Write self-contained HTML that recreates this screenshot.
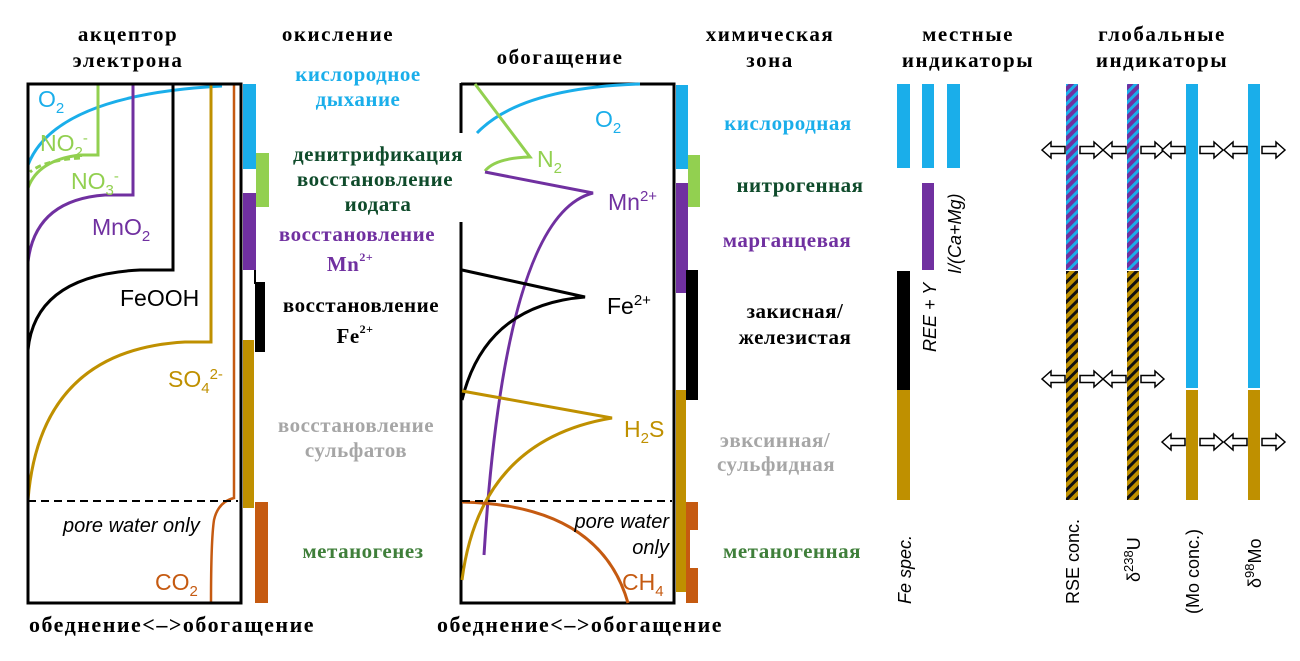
<!DOCTYPE html>
<html><head><meta charset="utf-8"><style>
html,body{margin:0;padding:0;background:#fff;}
svg{display:block;}
.h{font-family:"Liberation Serif",serif;font-weight:bold;font-size:21px;letter-spacing:1.5px;text-anchor:middle;}
.p{font-family:"Liberation Serif",serif;font-weight:bold;font-size:21px;letter-spacing:0.5px;text-anchor:middle;}
.s{font-family:"Liberation Sans",sans-serif;}
</style></head><body>
<svg width="1300" height="661" viewBox="0 0 1300 661" xmlns="http://www.w3.org/2000/svg">
<defs>
<pattern id="hp" patternUnits="userSpaceOnUse" width="7" height="7" patternTransform="rotate(45)">
<rect width="7" height="7" fill="#7030a0"/><rect width="3" height="7" fill="#1aaeea"/></pattern>
<pattern id="hg" patternUnits="userSpaceOnUse" width="7" height="7" patternTransform="rotate(45)">
<rect width="7" height="7" fill="#bf9000"/><rect width="3" height="7" fill="#111"/></pattern>
<g id="al"><polygon points="0,0 9,-8 9,-3.5 23,-3.5 23,3.5 9,3.5 9,8" fill="#fff" stroke="#000" stroke-width="1.5"/></g>
<g id="ar"><polygon points="23,0 14,-8 14,-3.5 0,-3.5 0,3.5 14,3.5 14,8" fill="#fff" stroke="#000" stroke-width="1.5"/></g>
</defs>

<g class="h" fill="#000">
<text x="128" y="41">акцептор</text><text x="128" y="67">электрона</text>
<text x="338" y="41">окисление</text>
<text x="560" y="64">обогащение</text>
<text x="770" y="41">химическая</text><text x="770" y="67">зона</text>
<text x="968" y="41">местные</text><text x="968" y="67">индикаторы</text>
<text x="1162" y="41">глобальные</text><text x="1162" y="67">индикаторы</text>
<text x="172" y="632" font-size="22">обеднение&lt;–&gt;обогащение</text>
<text x="580" y="632" font-size="22">обеднение&lt;–&gt;обогащение</text>
</g>

<!-- LEFT BOX -->
<g fill="none" stroke-width="3">
<path d="M28,165 Q55,95 222,86" stroke="#1aaeea"/>
<path d="M98,84 V155 H80 Q38,160 28,188" stroke="#92d050"/>
<path d="M80,158 Q45,160 30,172" stroke="#92d050" stroke-dasharray="6,4"/>
<path d="M133,84 V195 H105 Q35,200 28,262" stroke="#7030a0"/>
<path d="M173,84 V270 H140 Q35,275 28,350" stroke="#000"/>
<path d="M211,84 V342 H185 Q40,350 28,500" stroke="#bf9000"/>
<path d="M234,84 V498 Q218,502 214,520 Q211,540 211,602" stroke="#c55a11" stroke-width="2.5"/>
<rect x="28" y="84" width="213" height="519" stroke="#000"/>
<line x1="28" y1="501" x2="238" y2="501" stroke="#000" stroke-width="2" stroke-dasharray="8,5"/>
</g>
<g class="s" font-size="23">
<text x="38" y="107" fill="#1aaeea">O<tspan font-size="15" dy="6">2</tspan></text>
<text x="40" y="151" fill="#92d050">NO<tspan font-size="15" dy="6">2</tspan><tspan font-size="15" dy="-14">-</tspan></text>
<text x="71" y="189" fill="#92d050">NO<tspan font-size="15" dy="6">3</tspan><tspan font-size="15" dy="-14">-</tspan></text>
<text x="92" y="235" fill="#7030a0">MnO<tspan font-size="15" dy="6">2</tspan></text>
<text x="120" y="306" fill="#000">FeOOH</text>
<text x="168" y="387" fill="#bf9000">SO<tspan font-size="15" dy="6">4</tspan><tspan font-size="15" dy="-14">2-</tspan></text>
<text x="63" y="532" font-size="20" font-style="italic" fill="#000">pore water only</text>
<text x="155" y="590" fill="#c55a11">CO<tspan font-size="15" dy="6">2</tspan></text>
</g>
<rect x="243" y="84" width="13" height="85" fill="#1aaeea"/>
<rect x="256" y="153" width="13" height="54" fill="#92d050"/>
<rect x="243" y="193" width="13" height="77" fill="#7030a0"/>
<rect x="255" y="282" width="10" height="70" fill="#000"/>
<rect x="254" y="270" width="2" height="14" fill="#000"/>
<rect x="243" y="340" width="11" height="168" fill="#bf9000"/>
<rect x="255" y="502" width="13" height="101" fill="#c55a11"/>

<g class="p">
<text x="358" y="81" fill="#1aaeea">кислородное</text><text x="358" y="106" fill="#1aaeea">дыхание</text>
<text x="378" y="161" fill="#0f4b2b">денитрификация</text><text x="375" y="186" fill="#0f4b2b">восстановление</text><text x="378" y="211" fill="#0f4b2b">иодата</text>
<text x="357" y="241" fill="#7030a0">восстановление</text><text x="350" y="271" fill="#7030a0">Mn<tspan font-size="12" dy="-10">2+</tspan></text>
<text x="361" y="312" fill="#000">восстановление</text><text x="355" y="343" fill="#000">Fe<tspan font-size="12" dy="-10">2+</tspan></text>
<text x="356" y="432" fill="#a6a6a6">восстановление</text><text x="356" y="457" fill="#a6a6a6">сульфатов</text>
<text x="363" y="558" fill="#3f7f3a">метаногенез</text>
</g>

<!-- MIDDLE BOX -->
<g fill="none" stroke-width="3">
<path d="M461,83 V133 M461,222 V603 H674 V84 H461" stroke="#000"/>
<path d="M477,133 Q520,88 640,84" stroke="#1aaeea"/>
<path d="M475,84 L530,157 Q495,158 485,171" stroke="#92d050"/>
<path d="M485,172 L593,193 Q505,215 484,555" stroke="#7030a0"/>
<path d="M462,270 L585,297 Q485,305 462,400" stroke="#000"/>
<path d="M462,391 L612,418 Q480,440 462,580" stroke="#bf9000"/>
<path d="M462,502 Q600,505 628,603" stroke="#c55a11"/>
<line x1="462" y1="501" x2="672" y2="501" stroke="#000" stroke-width="2" stroke-dasharray="8,5"/>
</g>
<g class="s" font-size="23">
<text x="595" y="127" fill="#1aaeea">O<tspan font-size="15" dy="6">2</tspan></text>
<text x="537" y="167" fill="#92d050">N<tspan font-size="15" dy="6">2</tspan></text>
<text x="608" y="210" fill="#7030a0">Mn<tspan font-size="15" dy="-9">2+</tspan></text>
<text x="607" y="314" fill="#000">Fe<tspan font-size="15" dy="-9">2+</tspan></text>
<text x="624" y="437" fill="#bf9000">H<tspan font-size="15" dy="6">2</tspan><tspan dy="-6">S</tspan></text>
<text x="669" y="528" font-size="20" font-style="italic" text-anchor="end" fill="#000">pore water</text>
<text x="669" y="554" font-size="20" font-style="italic" text-anchor="end" fill="#000">only</text>
<text x="622" y="590" fill="#c55a11">CH<tspan font-size="15" dy="6">4</tspan></text>
</g>
<rect x="676" y="85" width="12" height="84" fill="#1aaeea"/>
<rect x="688" y="155" width="12" height="52" fill="#92d050"/>
<rect x="676" y="183" width="12" height="110" fill="#7030a0"/>
<rect x="686" y="270" width="12" height="130" fill="#000"/>
<rect x="676" y="390" width="10" height="202" fill="#bf9000"/>
<rect x="686" y="502" width="12" height="28" fill="#c55a11"/>
<rect x="686" y="530" width="4" height="40" fill="#c55a11"/>
<rect x="686" y="568" width="12" height="35" fill="#c55a11"/>

<g class="p">
<text x="788" y="130" fill="#1aaeea">кислородная</text>
<text x="800" y="192" fill="#0f4b2b">нитрогенная</text>
<text x="787" y="247" fill="#7030a0">марганцевая</text>
<text x="795" y="318" fill="#000">закисная/</text><text x="795" y="344" fill="#000">железистая</text>
<text x="775" y="447" fill="#a6a6a6">эвксинная/</text><text x="776" y="471" fill="#a6a6a6">сульфидная</text>
<text x="792" y="558" fill="#3f7f3a">метаногенная</text>
</g>

<!-- LOCAL INDICATORS -->
<rect x="897" y="84" width="13" height="84" fill="#1aaeea"/>
<rect x="922" y="84" width="12" height="84" fill="#1aaeea"/>
<rect x="947" y="84" width="13" height="84" fill="#1aaeea"/>
<rect x="922" y="183" width="12" height="87" fill="#7030a0"/>
<rect x="897" y="271" width="13" height="119" fill="#000"/>
<rect x="897" y="390" width="13" height="110" fill="#bf9000"/>
<g class="s" font-size="18" font-style="italic" fill="#000">
<text transform="translate(911,604) rotate(-90)">Fe spec.</text>
<text transform="translate(936,352) rotate(-90)">REE + Y</text>
<text transform="translate(961,274) rotate(-90)">I/(Ca+Mg)</text>
</g>

<!-- GLOBAL INDICATORS -->
<rect x="1066" y="84" width="12" height="186" fill="url(#hp)"/>
<rect x="1066" y="271" width="12" height="229" fill="url(#hg)"/>
<rect x="1127" y="84" width="12" height="186" fill="url(#hp)"/>
<rect x="1127" y="271" width="12" height="229" fill="url(#hg)"/>
<rect x="1186" y="84" width="12" height="304" fill="#1aaeea"/>
<rect x="1186" y="390" width="12" height="110" fill="#bf9000"/>
<rect x="1248" y="84" width="12" height="304" fill="#1aaeea"/>
<rect x="1248" y="390" width="12" height="110" fill="#bf9000"/>
<g>
<use href="#al" x="1042" y="150"/><use href="#ar" x="1080" y="150"/>
<use href="#al" x="1103" y="150"/><use href="#ar" x="1141" y="150"/>
<use href="#al" x="1162" y="150"/><use href="#ar" x="1200" y="150"/>
<use href="#al" x="1224" y="150"/><use href="#ar" x="1262" y="150"/>
<use href="#al" x="1042" y="379"/><use href="#ar" x="1080" y="379"/>
<use href="#al" x="1103" y="379"/><use href="#ar" x="1141" y="379"/>
<use href="#al" x="1162" y="442"/><use href="#ar" x="1200" y="442"/>
<use href="#al" x="1224" y="442"/><use href="#ar" x="1262" y="442"/>
</g>
<g class="s" font-size="18" fill="#000">
<text transform="translate(1079,604) rotate(-90)">RSE conc.</text>
<text transform="translate(1140,582) rotate(-90)">δ<tspan font-size="13" dy="-7">238</tspan><tspan dy="7">U</tspan></text>
<text transform="translate(1199,614) rotate(-90)">(Mo conc.)</text>
<text transform="translate(1261,588) rotate(-90)">δ<tspan font-size="13" dy="-7">98</tspan><tspan dy="7">Mo</tspan></text>
</g>
</svg>
</body></html>
